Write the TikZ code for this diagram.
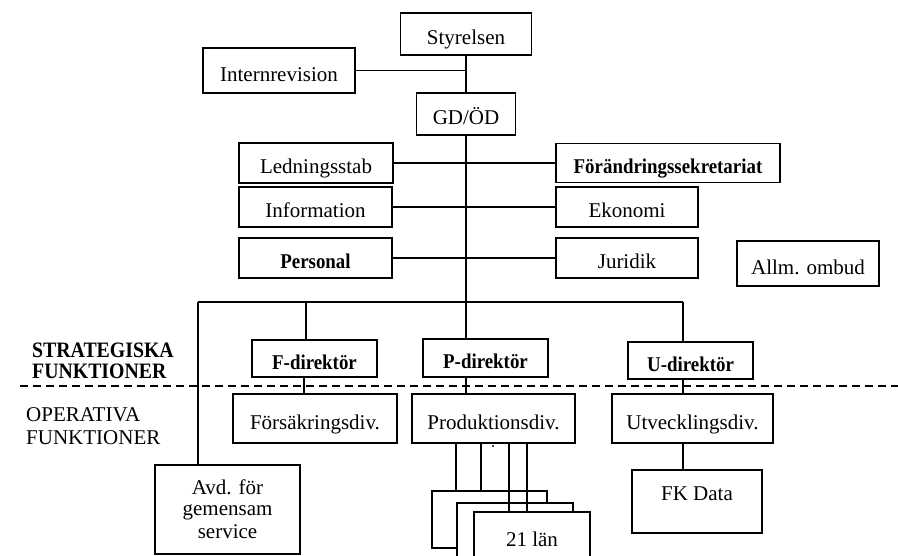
\documentclass[tikz,border=0pt]{standalone}
\usepackage{fontspec}
\setmainfont{Liberation Serif}
\newfontfamily\narrowbf{Liberation Serif Bold}[FakeStretch=0.9]
\begin{document}
\begin{tikzpicture}[x=1pt,y=-1pt,
  plainbox/.style={draw, line width=1.9pt, fill=white, inner sep=0pt, align=center,
    font=\fontsize{21}{23}\selectfont},
  box/.style={plainbox, text height=21.5pt, text depth=0pt},
  bbox/.style={box, font=\narrowbf\fontsize{21}{23}\selectfont},
  conn/.style={line width=1.8pt},
  thinconn/.style={line width=1.6pt},
  divider/.style={line width=1.5pt, dash pattern=on 8pt off 5pt}]
\useasboundingbox (0,0) rectangle (898,556);
\clip (0,0) rectangle (898,556);
\fill[white] (0,0) rectangle (898,556);

% top level
\node[box, minimum width=131, minimum height=42] (sty) at (466,34) {Styrelsen};
\node[box, minimum width=152, minimum height=45] (intr) at (279,70.5) {Internrevision};
\node[box, minimum width=99, minimum height=42] (gd) at (466,114) {GD/ÖD};

% staff units
\node[box, minimum width=154, minimum height=40] (led) at (316,163) {Ledningsstab};
\node[bbox, minimum width=224, minimum height=39] (fors) at (668,163) {Förändringssekretariat};
\node[box, minimum width=153, minimum height=40] (info) at (315.5,207) {Information};
\node[box, minimum width=142, minimum height=40] (eko) at (627,207) {Ekonomi};
\node[bbox, minimum width=153, minimum height=40] (pers) at (315.5,258) {Personal};
\node[box, minimum width=142, minimum height=40] (jur) at (627,258) {Juridik};
\node[box, minimum width=142, minimum height=45] (allm) at (808,263.5) {Allm. ombud};

% directors
\node[bbox, minimum width=125, minimum height=37] (fdir) at (314.5,358.5) {F-direktör};
\node[bbox, minimum width=125, minimum height=38] (pdir) at (485.5,358) {P-direktör};
\node[bbox, minimum width=125, minimum height=37] (udir) at (690.5,360.5) {U-direktör};

% divisions
\node[box, minimum width=164, minimum height=49] (fdiv) at (315,418.5) {Försäkringsdiv.};
\node[box, minimum width=163, minimum height=49] (pdiv) at (493.5,418.5) {Produktionsdiv.};
\node[box, minimum width=161, minimum height=49] (udiv) at (692.5,418.5) {Utvecklingsdiv.};
\node[plainbox, minimum width=145, minimum height=89] (avd) at (227.5,509.5) {\raisebox{-2pt}{Avd. för}\\gemensam\\service};
\node[plainbox, minimum width=130, minimum height=63] (fk) at (697,501.5) {\raisebox{15pt}{FK Data}};

% 21 län stack
\node[plainbox, minimum width=115, minimum height=57] (lan1) at (489.5,519.5) {};
\node[plainbox, minimum width=116, minimum height=62] (lan2) at (515,534) {};
\node[plainbox, minimum width=116, minimum height=54] (lan3) at (532,539) {21 län};

% side labels
\node[anchor=west, align=left, inner sep=0pt, font=\narrowbf\fontsize{22}{21}\selectfont] (strat) at (32,360.5) {STRATEGISKA\\FUNKTIONER};
\node[anchor=west, align=left, inner sep=0pt, font=\fontsize{21}{23}\selectfont] (oper) at (26,426.5) {OPERATIVA\\FUNKTIONER};

% dashed divider
\coordinate (dl) at (20,386);
\coordinate (dr) at (898,386);
\draw[divider] (dl) -- (dr);

% trunk and staff connectors
\draw[conn] (sty.south) -- (gd.north);
\draw[conn] (intr.east) -- (intr.east -| sty.south);
\draw[conn] (gd.south) -- (gd.south |- pdir.north);
\draw[conn] (led.east) -- (fors.west);
\draw[conn] (info.east) -- (eko.west);
\draw[conn] (pers.east) -- (jur.west);

% bus
\coordinate (busL) at (198,302);
\coordinate (busF) at (306,302);
\coordinate (busR) at (683,302);
\draw[conn] (busL) -- (busR);
\draw[conn] (busL) -- (busL |- avd.north);
\draw[thinconn] (busF) -- (busF |- fdir.north);
\draw[thinconn] (busR) -- (busR |- udir.north);

% director to division
\draw[thinconn] (304,0 |- fdir.south) -- (304,0 |- fdiv.north);
\draw[thinconn] (gd.south |- pdir.south) -- (gd.south |- pdiv.north);
\draw[thinconn] (busR |- udir.south) -- (busR |- udiv.north);
\draw[conn] (busR |- udiv.south) -- (busR |- fk.north);

% production to counties
\draw[conn] (456,0 |- pdiv.south) -- (456,0 |- lan1.north);
\draw[conn] (481,0 |- pdiv.south) -- (481,0 |- lan1.north);
\draw[thinconn] (509,0 |- pdiv.south) -- (509,0 |- lan3.north);
\draw[thinconn] (527,0 |- pdiv.south) -- (527,0 |- lan3.north);
\fill (493,446) circle (1.1pt);
\end{tikzpicture}
\end{document}
